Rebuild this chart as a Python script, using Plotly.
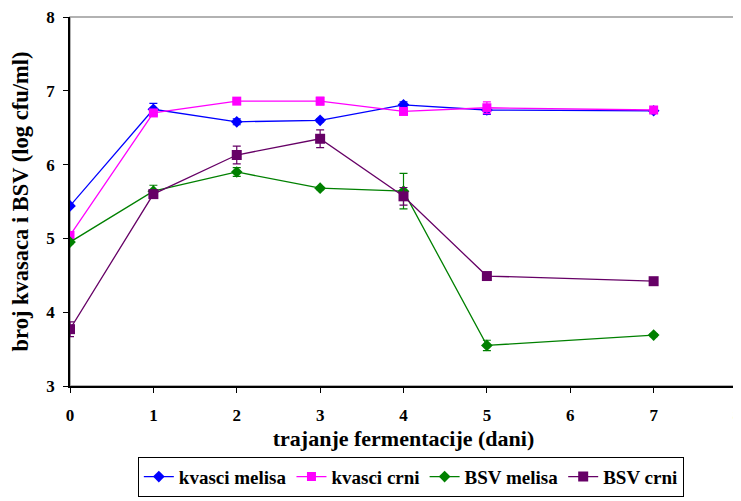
import plotly.graph_objects as go

days = [0, 1, 2, 3, 4, 5, 7]
kvasci_melisa = [5.44, 6.75, 6.58, 6.60, 6.81, 6.74, 6.73]
kvasci_melisa_err = [0.02, 0.08, 0.04, 0.02, 0.04, 0.06, 0.02]
kvasci_crni = [5.04, 6.70, 6.86, 6.86, 6.72, 6.77, 6.74]
kvasci_crni_err = [0.03, 0.03, 0.02, 0.05, 0.04, 0.08, 0.02]
bsv_melisa = [4.95, 5.64, 5.90, 5.68, 5.64, 3.55, 3.69]
bsv_melisa_err = [0.02, 0.08, 0.06, 0.02, 0.24, 0.07, 0.02]
bsv_crni = [3.77, 5.60, 6.13, 6.35, 5.57, 4.49, 4.42]
bsv_crni_err = [0.10, 0.03, 0.12, 0.12, 0.12, 0.02, 0.02]

series = [
    ("kvasci melisa", kvasci_melisa, kvasci_melisa_err, "#0000FF", "diamond", 9),
    ("kvasci crni", kvasci_crni, kvasci_crni_err, "#FF00FF", "square", 9),
    ("BSV melisa", bsv_melisa, bsv_melisa_err, "#008000", "diamond", 9),
    ("BSV crni", bsv_crni, bsv_crni_err, "#660066", "square", 10),
]

font_family = "Liberation Serif, Times New Roman, serif"

fig = go.Figure()
for name, vals, errs, color, sym, size in series:
    fig.add_trace(go.Scatter(
        x=days, y=vals, name=name, mode="lines+markers",
        line=dict(color=color, width=1.3),
        marker=dict(symbol=sym, size=size, color=color),
        error_y=dict(type="data", array=errs, visible=True, color=color, thickness=1.2, width=4),
    ))

fig.add_shape(type="rect", xref="paper", yref="paper", x0=0, y0=0, x1=1, y1=1,
              line=dict(color="#999999", width=1.5), layer="below")

# page body has an 8px margin, so the figure is sized to fit inside the window
fig.update_layout(
    width=733, height=493,
    margin=dict(l=62, r=4, t=9, b=115),
    paper_bgcolor="white", plot_bgcolor="white",
    font=dict(family=font_family, color="black"),
    showlegend=True,
    legend=dict(
        orientation="h", x=0.511, xanchor="center", y=-0.30, yanchor="bottom",
        font=dict(size=19, family=font_family, color="black", weight="bold"),
        bordercolor="black", borderwidth=1, bgcolor="white",
        itemwidth=30, tracegroupgap=0,
    ),
    xaxis=dict(
        range=[0, 8], tickmode="linear", tick0=0, dtick=1, automargin=False,
        showgrid=False, zeroline=False, showline=True, linecolor="black", linewidth=1.5,
        ticks="outside", ticklen=5, tickcolor="black", ticklabelstandoff=8,
        ticklabeloverflow="allow",
        tickfont=dict(size=17, family=font_family, weight="bold"),
        title=dict(text="trajanje fermentacije (dani)", standoff=6,
                   font=dict(size=22, family=font_family, weight="bold")),
    ),
    yaxis=dict(
        range=[3, 8], tickmode="linear", tick0=3, dtick=1, automargin=False,
        showgrid=False, zeroline=False, showline=True, linecolor="black", linewidth=1.5,
        ticks="outside", ticklen=5, tickcolor="black", ticklabelstandoff=5,
        ticklabeloverflow="allow",
        tickfont=dict(size=17, family=font_family, weight="bold"),
        title=dict(text="broj kvasaca i BSV (log cfu/ml)", standoff=12,
                   font=dict(size=22.5, family=font_family, weight="bold")),
    ),
)

fig.write_html("out.html")
